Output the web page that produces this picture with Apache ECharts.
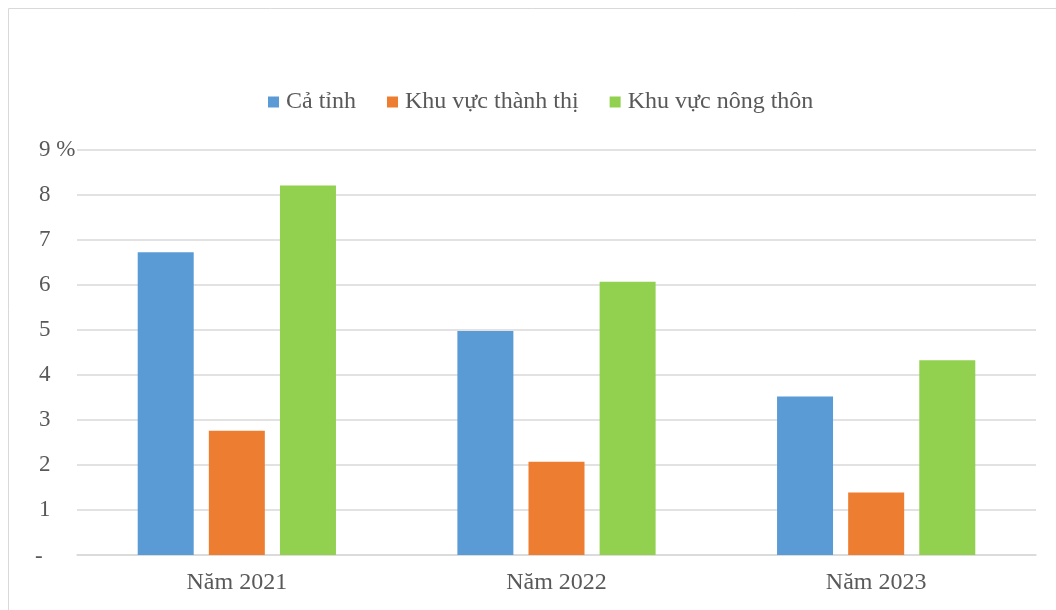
<!DOCTYPE html>
<html>
<head>
<meta charset="utf-8">
<script src="https://cdn.jsdelivr.net/npm/echarts@6/dist/echarts.min.js"></script>
<style>
  html, body { margin: 0; padding: 0; background: #fff; }
  #chart { width: 1056px; height: 610px; }
</style>
</head>
<body>
<div id="chart"></div>
<script>
// Categories and series values (%)
const categories = ['Năm 2021', 'Năm 2022', 'Năm 2023'];
const seriesNames = ['Cả tỉnh', 'Khu vực thành thị', 'Khu vực nông thôn'];
const caTinh = [6.73, 4.98, 3.52];
const thanhThi = [2.76, 2.07, 1.39];
const nongThon = [8.21, 6.07, 4.33];
const yTicks = { min: 0, max: 9, step: 1 };

const colors = ['#5B9BD5', '#ED7D31', '#92D050'];
const font = 'Liberation Serif, Times New Roman, serif';
const textColor = '#595959';
const lineColor = '#d9d9d9';

const chart = echarts.init(document.getElementById('chart'), null, { renderer: 'canvas' });

const seriesData = [caTinh, thanhThi, nongThon];

chart.setOption({
  backgroundColor: '#ffffff',
  animation: false,
  color: colors,
  graphic: [{
    type: 'rect',
    shape: { x: 8.5, y: 8.5, width: 1200, height: 800 },
    style: { fill: 'none', stroke: lineColor, lineWidth: 1 },
    silent: true
  }],
  legend: {
    top: 85,
    left: 263,
    itemWidth: 11,
    itemHeight: 11,
    itemGap: 31,
    icon: 'rect',
    textStyle: { fontFamily: font, fontSize: 24, color: textColor, padding: [0, 0, 0, 2] },
    data: seriesNames
  },
  grid: { left: 77, right: 20, top: 150, bottom: 55, containLabel: false },
  xAxis: {
    type: 'category',
    data: categories,
    axisLine: { show: true, lineStyle: { color: lineColor, width: 1.5 } },
    axisTick: { show: false },
    axisLabel: { fontFamily: font, fontSize: 24, color: textColor, margin: 16 }
  },
  yAxis: {
    type: 'value',
    min: yTicks.min,
    max: yTicks.max,
    interval: yTicks.step,
    axisLine: { show: false },
    axisTick: { show: false },
    splitLine: { lineStyle: { color: lineColor, width: 1.5 } },
    axisLabel: {
      fontFamily: font, fontSize: 23, color: textColor,
      align: 'left', margin: 38,
      formatter: function (v) {
        if (v === 0) return '{z|-}';
        if (v === yTicks.max) return v + ' %';
        return String(v);
      },
      rich: { z: { fontFamily: font, fontSize: 23, color: textColor, padding: [4, 0, 0, -4] } }
    }
  },
  series: seriesNames.map(function (name, i) {
    return {
      name: name,
      type: 'bar',
      data: seriesData[i],
      barWidth: 56,
      barGap: '27%',
      itemStyle: { color: colors[i] }
    };
  })
});
</script>
</body>
</html>
